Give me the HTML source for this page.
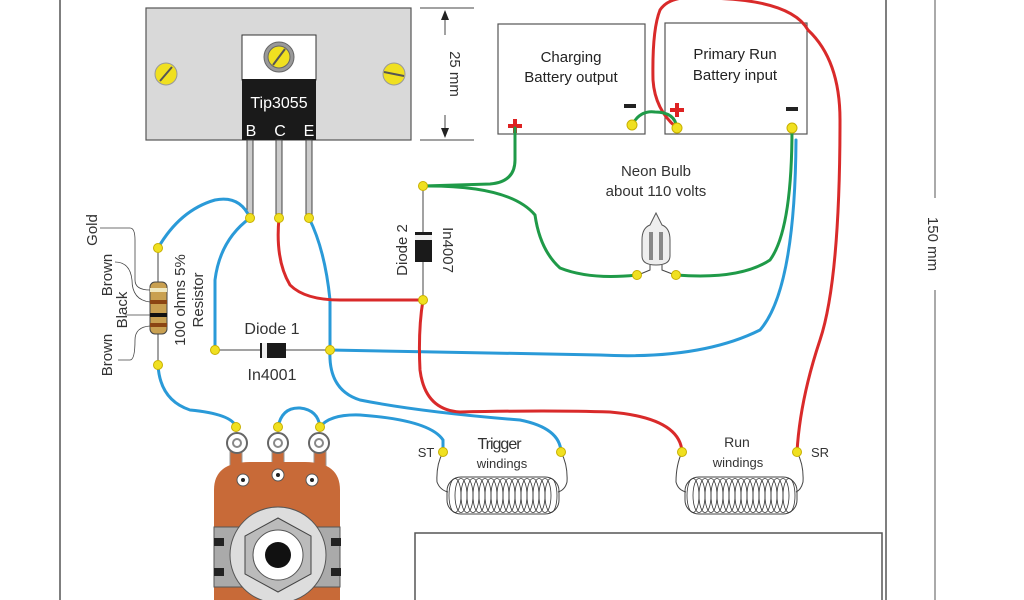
<!DOCTYPE html>
<html><head><style>
body{margin:0;background:#fff}
svg{display:block;font-family:"Liberation Sans",sans-serif}
</style></head><body>
<svg width="1024" height="600" viewBox="0 0 1024 600">
<defs>
<g id="coilg">
<rect x="0" y="0" width="112" height="37" rx="14" fill="#fff" stroke="#444"/>
<g fill="none" stroke="#333" stroke-width="0.8">
<ellipse cx="8" cy="18.5" rx="6" ry="17"/><ellipse cx="14" cy="18.5" rx="6" ry="17"/><ellipse cx="20" cy="18.5" rx="6" ry="17"/><ellipse cx="26" cy="18.5" rx="6" ry="17"/><ellipse cx="32" cy="18.5" rx="6" ry="17"/><ellipse cx="38" cy="18.5" rx="6" ry="17"/><ellipse cx="44" cy="18.5" rx="6" ry="17"/><ellipse cx="50" cy="18.5" rx="6" ry="17"/><ellipse cx="56" cy="18.5" rx="6" ry="17"/><ellipse cx="62" cy="18.5" rx="6" ry="17"/><ellipse cx="68" cy="18.5" rx="6" ry="17"/><ellipse cx="74" cy="18.5" rx="6" ry="17"/><ellipse cx="80" cy="18.5" rx="6" ry="17"/><ellipse cx="86" cy="18.5" rx="6" ry="17"/><ellipse cx="92" cy="18.5" rx="6" ry="17"/><ellipse cx="98" cy="18.5" rx="6" ry="17"/><ellipse cx="104" cy="18.5" rx="6" ry="17"/>
</g>
</g>
</defs>
<line x1="60" y1="0" x2="60" y2="600" stroke="#555" stroke-width="1.5"/>
<line x1="886" y1="0" x2="886" y2="600" stroke="#555" stroke-width="1.5"/>
<line x1="935" y1="0" x2="935" y2="198" stroke="#555" stroke-width="1"/>
<line x1="935" y1="290" x2="935" y2="600" stroke="#555" stroke-width="1"/>
<text transform="translate(928,244) rotate(90)" font-size="15" text-anchor="middle" fill="#333">150 mm</text>
<rect x="415" y="533" width="467" height="80" fill="#fff" stroke="#555" stroke-width="1.5"/>

<rect x="146" y="8" width="265" height="132" fill="#d9d9d9" stroke="#555" stroke-width="1.2"/>
<rect x="242" y="35" width="74" height="45" fill="#fff" stroke="#333"/>
<rect x="242" y="79" width="74" height="61" fill="#1a1a1a"/>
<text x="279" y="108" font-size="16" fill="#fff" text-anchor="middle">Tip3055</text>
<text x="251" y="136" font-size="16" fill="#fff" text-anchor="middle">B</text>
<text x="280" y="136" font-size="16" fill="#fff" text-anchor="middle">C</text>
<text x="309" y="136" font-size="16" fill="#fff" text-anchor="middle">E</text>
<circle cx="279" cy="57" r="15" fill="#999" stroke="#666"/>
<circle cx="279" cy="57" r="11" fill="#f0e020" stroke="#666"/>
<line x1="273" y1="65" x2="285" y2="49" stroke="#555" stroke-width="2"/>
<circle cx="166" cy="74" r="11" fill="#f0e020" stroke="#999"/>
<line x1="160" y1="81" x2="172" y2="67" stroke="#555" stroke-width="2"/>
<circle cx="394" cy="74" r="11" fill="#f0e020" stroke="#999"/>
<line x1="384" y1="72" x2="404" y2="76" stroke="#555" stroke-width="2"/>
<g fill="#ccc" stroke="#444" stroke-width="1">
<rect x="247" y="140" width="6" height="78"/><rect x="276" y="140" width="6" height="78"/><rect x="306" y="140" width="6" height="78"/>
</g>
<g stroke="#444" stroke-width="1">
<line x1="420" y1="8" x2="474" y2="8"/><line x1="420" y1="140" x2="474" y2="140"/>
<line x1="445" y1="14" x2="445" y2="35"/><line x1="445" y1="115" x2="445" y2="134"/>
</g>
<polygon points="445,10 441,20 449,20" fill="#222"/><polygon points="445,138 441,128 449,128" fill="#222"/>
<text transform="translate(450,74) rotate(90)" font-size="15" text-anchor="middle" fill="#333">25 mm</text>

<rect x="498" y="24" width="147" height="110" fill="#fff" stroke="#555" stroke-width="1.2"/>
<rect x="665" y="23" width="142" height="111" fill="#fff" stroke="#555" stroke-width="1.2"/>
<text x="571" y="62" font-size="15" text-anchor="middle" fill="#222">Charging</text>
<text x="571" y="82" font-size="15" text-anchor="middle" fill="#222">Battery output</text>
<text x="735" y="59" font-size="15" text-anchor="middle" fill="#222">Primary Run</text>
<text x="735" y="80" font-size="15" text-anchor="middle" fill="#222">Battery input</text>
<rect x="624" y="104" width="12" height="4" fill="#222"/>
<rect x="786" y="107" width="12" height="4" fill="#222"/>
<g fill="#d22"><rect x="670" y="108" width="14" height="4"/><rect x="675" y="103" width="4" height="14"/>
<rect x="508" y="124" width="14" height="4"/><rect x="513" y="119" width="4" height="14"/></g>

<line x1="423" y1="186" x2="423" y2="300" stroke="#444"/>
<rect x="415" y="232" width="17" height="30" fill="#1a1a1a"/>
<rect x="415" y="235" width="17" height="5" fill="#eee"/>
<text transform="translate(407,250) rotate(-90)" font-size="15" text-anchor="middle" fill="#333">Diode 2</text>
<text transform="translate(443,250) rotate(90)" font-size="15" text-anchor="middle" fill="#333">In4007</text>

<text x="656" y="176" font-size="15" text-anchor="middle" fill="#333">Neon Bulb</text>
<text x="656" y="196" font-size="15" text-anchor="middle" fill="#333">about 110 volts</text>
<path d="M650,225 L656,213 L662,225 Q670,228 670,240 L670,256 Q670,265 656,265 Q642,265 642,256 L642,240 Q642,228 650,225Z" fill="#eee" stroke="#555"/>
<rect x="649" y="232" width="4" height="28" fill="#888"/><rect x="659" y="232" width="4" height="28" fill="#888"/>
<path d="M650,265 L650,270 L638,275 M662,265 L662,270 L675,275" fill="none" stroke="#444"/>

<line x1="158" y1="248" x2="158" y2="365" stroke="#444"/>
<rect x="150" y="282" width="17" height="52" rx="5" fill="#c9a050" stroke="#444"/>
<rect x="150" y="288" width="17" height="4" fill="#f0e8c0"/>
<rect x="150" y="300" width="17" height="4" fill="#8b4513"/>
<rect x="150" y="313" width="17" height="4" fill="#111"/>
<rect x="150" y="323" width="17" height="4" fill="#8b4513"/>
<text transform="translate(185,300) rotate(-90)" font-size="15" text-anchor="middle" fill="#333">100 ohms 5%</text>
<text transform="translate(203,300) rotate(-90)" font-size="15" text-anchor="middle" fill="#333">Resistor</text>
<text transform="translate(97,230) rotate(-90)" font-size="15" text-anchor="middle" fill="#333">Gold</text>
<text transform="translate(112,275) rotate(-90)" font-size="15" text-anchor="middle" fill="#333">Brown</text>
<text transform="translate(127,310) rotate(-90)" font-size="15" text-anchor="middle" fill="#333">Black</text>
<text transform="translate(112,355) rotate(-90)" font-size="15" text-anchor="middle" fill="#333">Brown</text>
<path d="M100,228 H130 Q135,228 135,240 V280 Q135,290 150,290 M115,262 Q130,262 132,280 Q132,300 150,302 M125,315 H150 M118,360 H130 Q135,360 135,340 Q135,327 150,326" fill="none" stroke="#444" stroke-width="0.8"/>

<line x1="215" y1="350" x2="330" y2="350" stroke="#444"/>
<rect x="260" y="343" width="26" height="15" fill="#1a1a1a"/>
<rect x="262" y="343" width="5" height="15" fill="#eee"/>
<text x="272" y="334" font-size="16" text-anchor="middle" fill="#333">Diode 1</text>
<text x="272" y="380" font-size="16" text-anchor="middle" fill="#333">In4001</text>

<g fill="#c86a38" stroke="#999"><rect x="230" y="440" width="12" height="30"/><rect x="272" y="440" width="12" height="30"/><rect x="314" y="440" width="12" height="30"/></g>
<g fill="#fff" stroke="#666" stroke-width="2">
<circle cx="237" cy="443" r="10"/><circle cx="278" cy="443" r="10"/><circle cx="319" cy="443" r="10"/></g>
<g fill="#fff" stroke="#888" stroke-width="2"><circle cx="237" cy="443" r="4"/><circle cx="278" cy="443" r="4"/><circle cx="319" cy="443" r="4"/></g>
<path d="M214,490 Q214,462 250,462 L305,462 Q340,462 340,490 L340,600 L214,600Z" fill="#c86a38"/>
<g fill="#fff" stroke="#555"><circle cx="243" cy="480" r="6"/><circle cx="278" cy="475" r="6"/><circle cx="312" cy="480" r="6"/></g>
<g fill="#222"><circle cx="243" cy="480" r="2"/><circle cx="278" cy="475" r="2"/><circle cx="312" cy="480" r="2"/></g>
<rect x="214" y="527" width="126" height="60" fill="#aaa" stroke="#555"/>
<rect x="214" y="538" width="10" height="8" fill="#222"/><rect x="214" y="568" width="10" height="8" fill="#222"/>
<rect x="331" y="538" width="10" height="8" fill="#222"/><rect x="331" y="568" width="10" height="8" fill="#222"/>
<circle cx="278" cy="555" r="48" fill="#ddd" stroke="#555"/>
<polygon points="278,518 311,536 311,574 278,592 245,574 245,536" fill="#bbb" stroke="#444"/>
<circle cx="278" cy="555" r="25" fill="#fff" stroke="#555"/>
<circle cx="278" cy="555" r="13" fill="#111"/>

<use href="#coilg" x="447" y="477"/>
<use href="#coilg" x="685" y="477"/>
<path d="M443,452 Q436,465 437,482 Q440,490 448,492 M561,452 Q568,465 567,482 Q565,490 558,492 M682,452 Q676,465 676,482 Q678,490 686,492 M797,452 Q804,465 803,482 Q801,490 796,492" fill="none" stroke="#444"/>
<text x="499" y="449" font-size="16" text-anchor="middle" fill="#333" letter-spacing="-1">Trigger</text>
<text x="502" y="468" font-size="13" text-anchor="middle" fill="#333">windings</text>
<text x="737" y="447" font-size="14" text-anchor="middle" fill="#333">Run</text>
<text x="738" y="467" font-size="13" text-anchor="middle" fill="#333">windings</text>
<text x="426" y="457" font-size="13" text-anchor="middle" fill="#333">ST</text>
<text x="820" y="457" font-size="13" text-anchor="middle" fill="#333">SR</text>

<g fill="none" stroke-width="3" stroke-linecap="round">
<path stroke="#2a9ad8" d="M250,218 Q240,195 215,200 Q180,210 158,248"/>
<path stroke="#2a9ad8" d="M250,218 Q220,240 215,280 L215,350"/>
<path stroke="#2a9ad8" d="M309,218 Q325,250 330,300 L330,350"/>
<path stroke="#2a9ad8" d="M330,350 Q328,390 360,400 Q420,412 520,420 Q560,428 561,452"/>
<path stroke="#2a9ad8" d="M330,350 L600,355 Q700,360 760,330 Q795,290 796,140"/>
<path stroke="#2a9ad8" d="M158,365 Q160,400 190,410 Q232,414 236,427"/>
<path stroke="#2a9ad8" d="M278,427 Q282,407 300,408 Q318,410 320,427 Q330,414 360,415 Q430,420 443,440 L443,452"/>
<path stroke="#d92a2a" d="M279,218 Q275,260 290,285 Q305,300 340,300 L423,300"/>
<path stroke="#d92a2a" d="M423,300 Q418,330 420,370 Q425,410 460,412 Q550,410 610,412 Q680,418 682,452"/>
<path stroke="#d92a2a" d="M677,128 Q655,110 653,80 Q652,30 660,10 Q670,-5 700,-2 Q790,-2 808,30 Q840,60 840,120 Q840,280 820,340 Q800,400 797,452"/>
<path stroke="#1f9a48" d="M515,128 L515,160 Q515,182 490,184 L423,186"/>
<path stroke="#1f9a48" d="M423,186 Q510,185 535,215 Q540,250 560,268 Q590,280 637,275"/>
<path stroke="#1f9a48" d="M676,275 Q740,280 770,260 Q792,230 792,128"/>
<path stroke="#1f9a48" d="M632,125 Q640,110 655,112 Q675,112 677,128"/>
</g>
<g fill="#f0e020" stroke="#c8b000" stroke-width="1">
<circle cx="250" cy="218" r="4.5"/><circle cx="279" cy="218" r="4.5"/><circle cx="309" cy="218" r="4.5"/>
<circle cx="158" cy="248" r="4.5"/><circle cx="158" cy="365" r="4.5"/>
<circle cx="215" cy="350" r="4.5"/><circle cx="330" cy="350" r="4.5"/>
<circle cx="423" cy="186" r="4.5"/><circle cx="423" cy="300" r="4.5"/>
<circle cx="637" cy="275" r="4.5"/><circle cx="676" cy="275" r="4.5"/>
<circle cx="632" cy="125" r="5"/><circle cx="677" cy="128" r="5"/><circle cx="792" cy="128" r="5"/>
<circle cx="236" cy="427" r="4.5"/><circle cx="278" cy="427" r="4.5"/><circle cx="320" cy="427" r="4.5"/>
<circle cx="443" cy="452" r="4.5"/><circle cx="561" cy="452" r="4.5"/><circle cx="682" cy="452" r="4.5"/><circle cx="797" cy="452" r="4.5"/>
</g>
</svg>
</body></html>
